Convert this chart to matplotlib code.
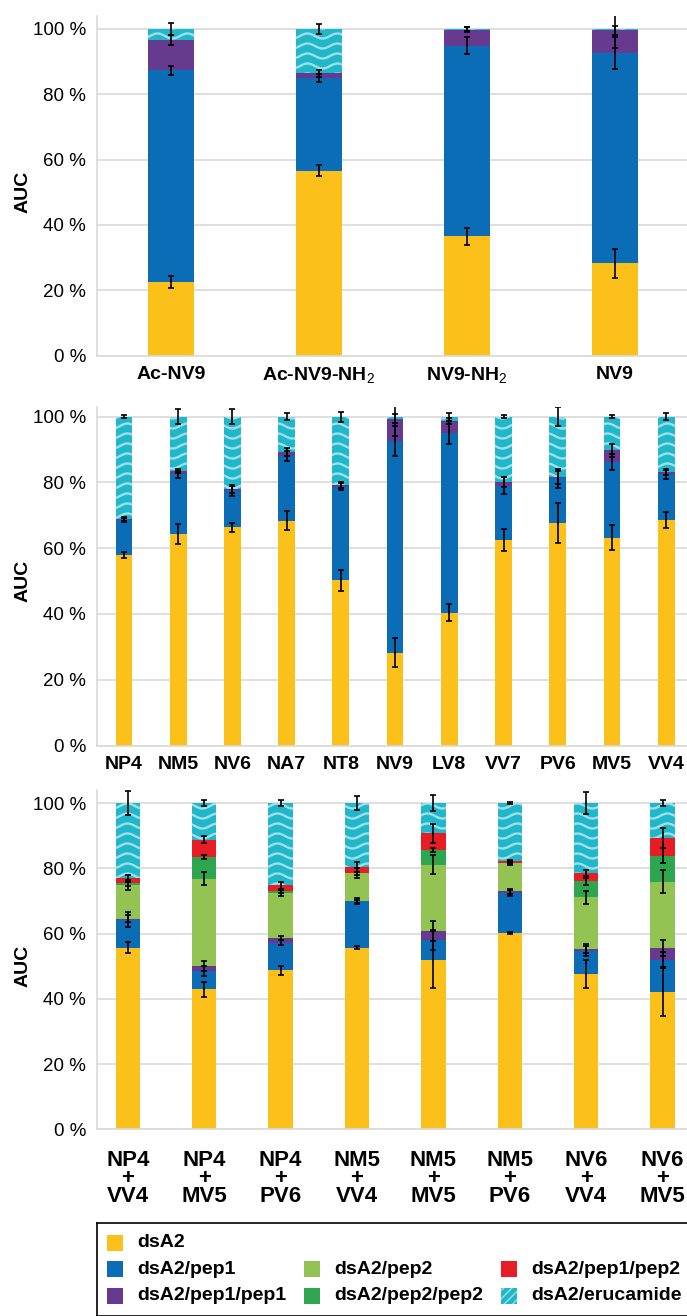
import numpy as np
import matplotlib.pyplot as plt
from matplotlib.patches import Rectangle
from matplotlib.transforms import blended_transform_factory

plt.rcParams['font.family'] = ['Liberation Sans', 'DejaVu Sans']
plt.rcParams['mathtext.fontset'] = 'custom'
plt.rcParams['mathtext.rm'] = 'Liberation Sans'
plt.rcParams['mathtext.bf'] = 'Liberation Sans:bold'

COLORS = {
    'dsA2': '#fcc01a',
    'dsA2/pep1': '#0a6db6',
    'dsA2/pep1/pep1': '#663b8f',
    'dsA2/pep2': '#93c353',
    'dsA2/pep2/pep2': '#2ea64f',
    'dsA2/pep1/pep2': '#e61d24',
    'dsA2/erucamide': '#1fb7ca',
}
WAVE = '#a3dde6'
GRID = '#d9d9d9'

# --- capped NV9 variants ---
cap_labels = ['Ac-NV9', r'Ac-NV9-NH$_2$', r'NV9-NH$_2$', 'NV9']
cap_dsA2 = [22.6, 56.6, 36.5, 28.2]
cap_pep1 = [64.7, 28.5, 58.4, 64.4]
cap_pep1_pep1 = [9.3, 1.3, 4.9, 7.0]
cap_erucamide = [3.4, 13.6, 0.2, 0.4]
cap_dsA2_err = [1.8, 1.7, 2.5, 4.3]
cap_pep1_err = [1.5, 1.2, 2.5, 5.0]
cap_pep1_pep1_err = [1.5, 1.0, 0.8, 1.3]
cap_erucamide_err = [1.8, 1.5, 0.6, 5.7]

# --- single peptides ---
single_labels = ['NP4', 'NM5', 'NV6', 'NA7', 'NT8', 'NV9', 'LV8', 'VV7', 'PV6', 'MV5', 'VV4']
single_dsA2 = [57.9, 64.3, 66.3, 68.4, 50.2, 28.2, 40.4, 62.5, 67.7, 63.2, 68.6]
single_pep1 = [10.6, 18.1, 11.2, 19.7, 28.5, 64.4, 54.7, 16.5, 13.5, 23.0, 14.0]
single_pep1_pep1 = [0.4, 1.0, 0.5, 1.2, 0.5, 6.8, 3.5, 1.1, 0.4, 3.6, 0.4]
single_erucamide = [31.1, 16.6, 22.0, 10.7, 20.8, 0.6, 1.4, 19.9, 18.4, 10.2, 17.0]
single_dsA2_err = [0.8, 2.9, 1.4, 2.9, 3.1, 4.4, 2.6, 3.3, 6.0, 3.9, 2.4]
single_pep1_err = [0.6, 1.0, 1.5, 1.5, 1.0, 4.6, 3.5, 2.6, 2.8, 2.3, 1.5]
single_pep1_pep1_err = [0.5, 0.6, 1.2, 1.2, 1.0, 1.3, 1.0, 1.5, 2.0, 2.0, 0.8]
single_erucamide_err = [0.5, 2.3, 2.3, 1.1, 1.5, 5.9, 1.2, 0.5, 3.0, 0.5, 1.0]

# --- peptide pairs ---
pair_labels = [('NP4', 'VV4'), ('NP4', 'MV5'), ('NP4', 'PV6'), ('NM5', 'VV4'),
               ('NM5', 'MV5'), ('NM5', 'PV6'), ('NV6', 'VV4'), ('NV6', 'MV5')]
pair_dsA2 = [55.7, 43.0, 48.7, 55.7, 52.0, 60.2, 47.7, 42.2]
pair_pep1 = [8.6, 5.5, 8.5, 14.2, 6.1, 12.2, 6.9, 9.6]
pair_pep1_pep1 = [0.3, 1.5, 1.5, 0.0, 2.6, 0.5, 0.8, 3.7]
pair_pep2 = [10.2, 26.8, 13.8, 8.6, 20.4, 8.7, 15.7, 20.4]
pair_pep2_pep2 = [0.6, 6.6, 0.4, 0.0, 4.5, 0.1, 4.9, 8.0]
pair_pep1_pep2 = [1.5, 5.4, 1.9, 2.0, 5.1, 0.4, 2.5, 5.3]
pair_erucamide = [23.1, 11.2, 25.2, 19.5, 9.3, 17.9, 21.5, 10.8]
pair_dsA2_err = [1.7, 2.3, 1.4, 0.5, 8.7, 0.4, 4.3, 7.6]
pair_pep1_err = [2.2, 1.5, 0.7, 0.9, 3.0, 1.0, 1.5, 2.5]
pair_pep1_pep1_err = [1.0, 1.5, 0.7, 0.5, 3.0, 0.8, 1.5, 2.5]
pair_pep2_err = [1.5, 2.0, 1.0, 1.5, 3.0, 0.5, 2.0, 3.5]
pair_pep2_pep2_err = [0.7, 0.7, 0.6, 0.5, 0.5, 0.3, 1.0, 2.3]
pair_pep1_pep2_err = [1.0, 1.0, 1.0, 1.5, 3.0, 0.5, 0.9, 3.0]
pair_erucamide_err = [3.7, 0.8, 1.0, 2.2, 2.4, 0.3, 3.5, 0.8]

W, H = 687, 1316
fig = plt.figure(figsize=(W / 100, H / 100), dpi=100)


def px_axes(left, top, bottom, width=593):
    return fig.add_axes([left / W, 1 - bottom / H, width / W, (bottom - top) / H])


def add_waves(ax, bars, period=30, amp=2.5, gap=10):
    # wavy fill pattern for the erucamide segments, drawn in pixel space
    inv = ax.transData.inverted()
    for rect in bars:
        if rect.get_height() <= 0:
            continue
        x0, y0 = ax.transData.transform((rect.get_x(), rect.get_y()))
        x1, y1 = ax.transData.transform((rect.get_x() + rect.get_width(),
                                         rect.get_y() + rect.get_height()))
        xs = np.linspace(x0 - 2, x1 + 2, 60)
        for yb in np.arange(np.floor(y0 / gap) * gap, y1 + gap, gap):
            ys = yb + amp * np.sin(2 * np.pi * xs / period)
            pts = inv.transform(np.column_stack([xs, ys]))
            line, = ax.plot(pts[:, 0], pts[:, 1], color=WAVE, lw=1.7,
                            solid_capstyle='butt', zorder=2.5,
                            scalex=False, scaley=False)
            line.set_clip_path(rect)


def draw_panel(ax, n, stack, width, xlim, ytop):
    ax.set_xlim(*xlim)
    ax.set_ylim(0, ytop)
    x = np.arange(n)
    bottom = np.zeros(n)
    for name, vals, errs in stack:
        vals = np.asarray(vals, float)
        bars = ax.bar(x, vals, width, bottom=bottom, color=COLORS[name],
                      linewidth=0, zorder=2)
        top = bottom + vals
        ax.errorbar(x, top, yerr=errs, fmt='none', ecolor='black',
                    elinewidth=1.2, capsize=2.2, capthick=1.2, zorder=5)
        if name == 'dsA2/erucamide':
            add_waves(ax, bars)
        bottom = top

    ax.set_yticks(range(0, 101, 20))
    ax.set_yticklabels([f'{v} %' for v in range(0, 101, 20)])
    ax.yaxis.grid(True, color=GRID, lw=1.2)
    ax.set_axisbelow(True)
    for s in ('top', 'right'):
        ax.spines[s].set_visible(False)
    ax.spines['left'].set_color(GRID)
    ax.spines['bottom'].set_color(GRID)
    ax.spines['left'].set_linewidth(1.2)
    ax.spines['bottom'].set_linewidth(1.2)
    ax.tick_params(axis='y', length=0, labelsize=13.5, pad=8)
    ax.tick_params(axis='x', length=0)
    ax.set_xticks(x)
    ax.text(23 / W, 50, 'AUC', transform=blended_transform_factory(fig.transFigure, ax.transData),
            rotation=90, ha='center', va='center', fontsize=14, fontweight='bold')


# top panel
ax1 = px_axes(97, 15.9, 355.6)
draw_panel(ax1, len(cap_labels), [
    ('dsA2', cap_dsA2, cap_dsA2_err),
    ('dsA2/pep1', cap_pep1, cap_pep1_err),
    ('dsA2/pep1/pep1', cap_pep1_pep1, cap_pep1_pep1_err),
    ('dsA2/erucamide', cap_erucamide, cap_erucamide_err),
], 0.31, (-0.4986, 3.508), 104)
ax1.set_xticklabels(cap_labels, fontsize=14, fontweight='bold')
ax1.tick_params(axis='x', pad=7.3)

# middle panel
ax2 = px_axes(97, 406.7, 745.5)
draw_panel(ax2, len(single_labels), [
    ('dsA2', single_dsA2, single_dsA2_err),
    ('dsA2/pep1', single_pep1, single_pep1_err),
    ('dsA2/pep1/pep1', single_pep1_pep1, single_pep1_pep1_err),
    ('dsA2/erucamide', single_erucamide, single_erucamide_err),
], 0.31, (-0.498, 10.44), 103)
ax2.set_xticklabels(single_labels, fontsize=14, fontweight='bold')
ax2.tick_params(axis='x', pad=7.3)

# bottom panel, stacked "A + B" labels
ax3 = px_axes(97, 790, 1129.3)
draw_panel(ax3, len(pair_labels), [
    ('dsA2', pair_dsA2, pair_dsA2_err),
    ('dsA2/pep1', pair_pep1, pair_pep1_err),
    ('dsA2/pep1/pep1', pair_pep1_pep1, pair_pep1_pep1_err),
    ('dsA2/pep2', pair_pep2, pair_pep2_err),
    ('dsA2/pep2/pep2', pair_pep2_pep2, pair_pep2_pep2_err),
    ('dsA2/pep1/pep2', pair_pep1_pep2, pair_pep1_pep2_err),
    ('dsA2/erucamide', pair_erucamide, pair_erucamide_err),
], 0.32, (-0.403, 7.359), 104)
ax3.set_xticklabels([f'{a}\n+\n{b}' for a, b in pair_labels],
                    fontsize=16, fontweight='bold', linespacing=0.82)
ax3.tick_params(axis='x', pad=14.8)

# legend box, laid out in pixels from its top-left corner
lax = px_axes(97, 1222.5, 1315.5)
lax.set_xlim(0, 593)
lax.set_ylim(93, 0)
lax.set_xticks([])
lax.set_yticks([])
for s in lax.spines.values():
    s.set_color('black')
    s.set_linewidth(1.2)
legend_items = [
    ('dsA2', 0, 0),
    ('dsA2/pep1', 0, 1), ('dsA2/pep2', 1, 1), ('dsA2/pep1/pep2', 2, 1),
    ('dsA2/pep1/pep1', 0, 2), ('dsA2/pep2/pep2', 1, 2), ('dsA2/erucamide', 2, 2),
]
col_x = [10.3, 207, 404]
row_y = [20, 46.5, 73.5]
for name, c, r in legend_items:
    hatch = '////' if name == 'dsA2/erucamide' else None
    lax.add_patch(Rectangle((col_x[c], row_y[r] - 8), 16, 16, facecolor=COLORS[name],
                            edgecolor=WAVE if hatch else 'none', hatch=hatch, linewidth=0))
    lax.text(col_x[c] + 30, row_y[r], name, ha='left', va='center',
             fontsize=14, fontweight='bold')

fig.savefig('out.png', dpi=100)
